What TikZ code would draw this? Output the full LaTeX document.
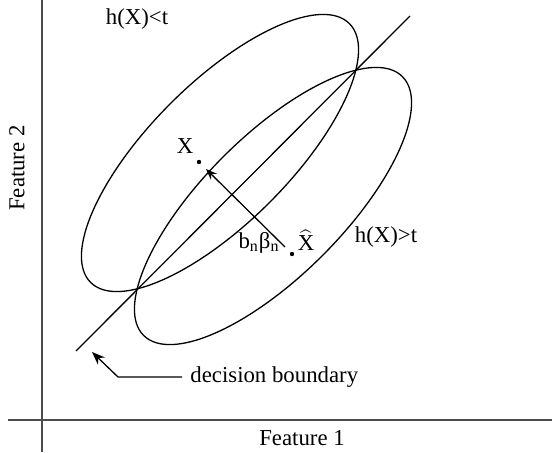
\documentclass[tikz,border=0pt]{standalone}
\usepackage{fontspec}
\setmainfont{Liberation Serif}
\usetikzlibrary{arrows.meta}
\begin{document}
\begin{tikzpicture}[x=0.5pt,y=0.5pt,
  curve/.style={line width=0.65pt},
  axisline/.style={line width=0.6pt, draw=black!70},
  lbl/.style={font=\fontsize{11.4}{13.7}\selectfont, inner sep=0pt},
  ptdot/.style={circle, fill, inner sep=0pt, minimum size=2.2pt},
  arr/.style={-{Stealth[length=5.5pt,width=4.2pt]}, line width=0.65pt},
  bigarr/.style={-{Stealth[length=6.5pt,width=5pt]}, line width=0.65pt}]
\useasboundingbox (0,0) rectangle (552,452);
% axes
\coordinate (vtop) at (42,452);
\coordinate (vbot) at (42,0);
\coordinate (hleft) at (8,32);
\coordinate (hright) at (552,32);
\draw[axisline] (vbot) -- (vtop);
\draw[axisline] (hleft) -- (hright);
\node[lbl] (f1) at (302,14) {Feature 1};
\node[lbl, rotate=90] (f2) at (17,284) {Feature 2};
% ellipses
\draw[curve, rotate around={45:(220,299)}] (220,299) ellipse [x radius=183, y radius=70];
\draw[curve, rotate around={45:(273,246)}] (273,246) ellipse [x radius=183, y radius=70];
% decision boundary
\coordinate (bl) at (76,101);
\coordinate (tr) at (410,436);
\draw[curve] (bl) -- (tr);
% labels
\node[lbl] (hlt) at (137,433) {h(X)<t};
\node[lbl] (hgt) at (386,215) {h(X)>t};
\node[lbl] (xl) at (185,306) {X};
\node[ptdot] (xd) at (199,290) {};
\node[lbl] (xh) at (306,212) {\(\widehat{\mbox{X}}\)};
\node[ptdot] (xhd) at (292,198) {};
\node[lbl] (bb) at (259,209) {b\textsubscript{n}β\textsubscript{n}};
\coordinate (atail) at (285,205);
\coordinate (ahead) at (206,283);
\draw[arr] (atail) -- (ahead);
% decision boundary label
\node[lbl, anchor=west] (db) at (190,75) {decision boundary};
\coordinate (bend) at (118,75);
\coordinate (dtip) at (92,100);
\draw[bigarr] (db.west) ++(-8,0) -- (bend) -- (dtip);
\end{tikzpicture}
\end{document}
